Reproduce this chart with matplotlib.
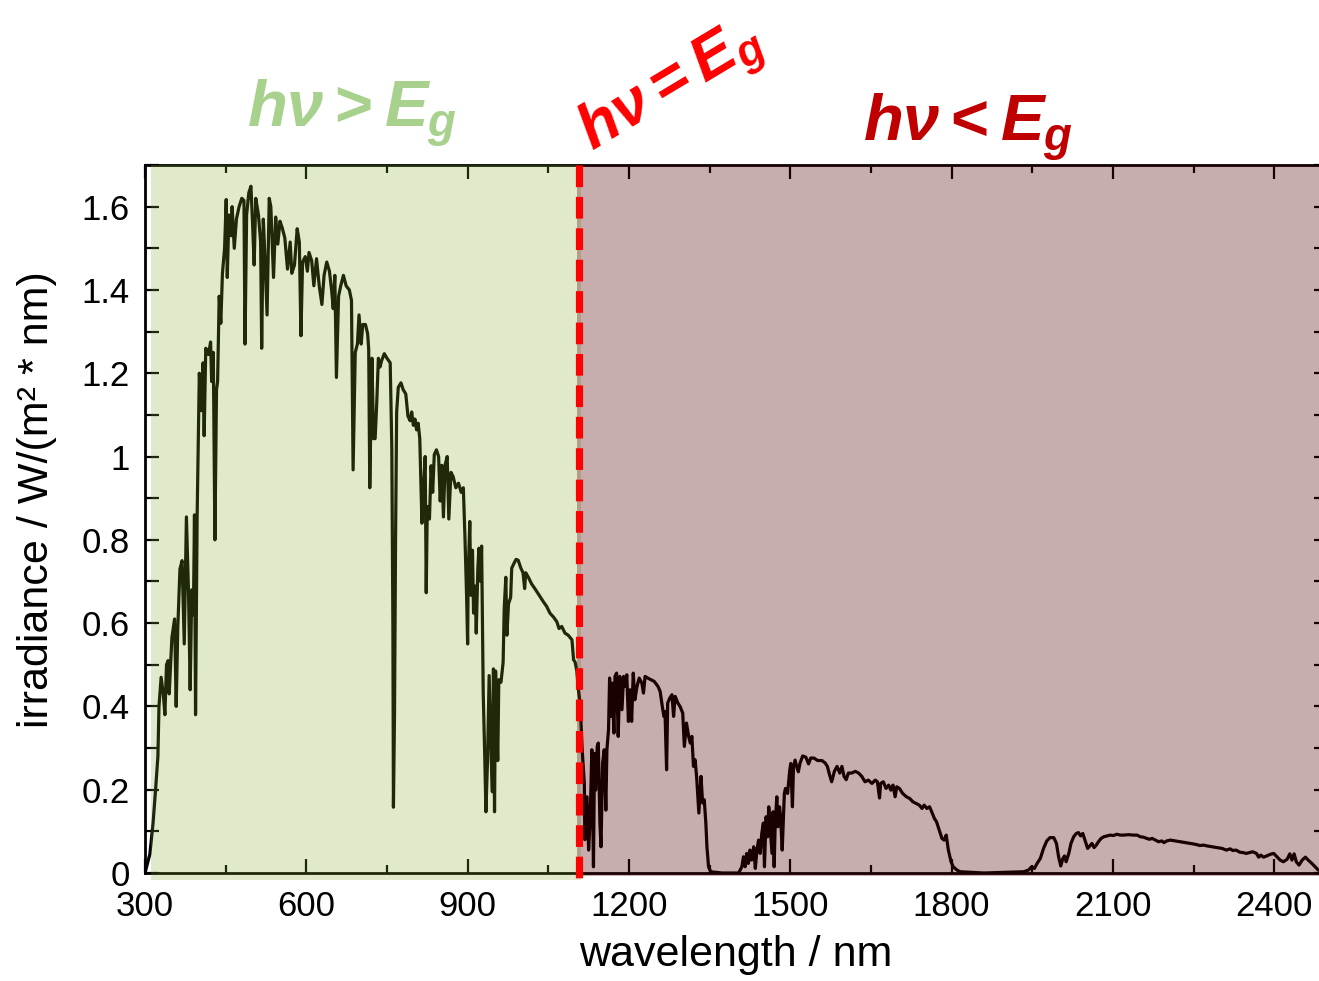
import matplotlib
matplotlib.use("Agg")
import matplotlib.pyplot as plt
from matplotlib.patches import Rectangle
from matplotlib.ticker import MultipleLocator, FuncFormatter
import numpy as np

plt.rcParams['font.family'] = ['Liberation Sans', 'DejaVu Sans']
plt.rcParams['mathtext.fontset'] = 'custom'
plt.rcParams['mathtext.it'] = 'Liberation Sans:bold:italic'
plt.rcParams['mathtext.rm'] = 'Liberation Sans:bold'
plt.rcParams['mathtext.bf'] = 'Liberation Sans:bold'

# ---- data: AM1.5 solar irradiance ----
wl_vis = [300, 309, 315, 320, 324, 326, 330, 334, 337, 340, 343, 345, 350, 355, 358, 361, 365, 369, 373, 377,
          381, 384, 387, 390, 392, 394, 397, 401, 405, 408, 410, 413, 418, 422, 424, 427, 430, 433, 435, 438,
          441, 444, 448, 451, 453, 456, 460, 462, 466, 470, 475, 480, 484, 486, 489, 493, 497, 500, 503, 506,
          511, 515, 517, 520, 523, 527, 531, 534, 539, 543, 547, 551, 555, 560, 565, 570, 573, 578, 583, 587,
          590, 593, 598, 602, 605, 610, 614, 619, 624, 629, 633, 638, 643, 647, 650, 653, 656, 660, 664, 669,
          674, 680, 684, 687, 691, 695, 698, 702, 705, 710, 714, 716, 718, 722, 725, 728, 731, 734, 737, 740,
          745, 750, 756, 759, 761, 762, 764, 766, 768, 771, 776, 780, 785, 789, 793, 796, 799, 802, 805, 808,
          811, 815, 818, 821, 823, 825, 829, 832, 835, 838, 842, 846, 849, 852, 855, 858, 862, 865, 869, 873,
          878, 883, 888, 892, 895, 898, 900, 901, 904, 906, 909, 911, 914, 916, 919, 921, 924, 926, 929, 932,
          934, 937, 940, 944, 946, 948, 950, 952, 956, 958, 962, 966, 968, 971, 973, 976, 980, 982, 986, 990,
          994, 999, 1003, 1006, 1008, 1013, 1019, 1025, 1033, 1041, 1047, 1053, 1060, 1066, 1070, 1075, 1081,
          1087, 1094, 1097, 1100, 1103, 1106, 1109]
irr_vis = [0.0, 0.045, 0.12, 0.206, 0.28, 0.40, 0.47, 0.43, 0.38, 0.50, 0.51, 0.43, 0.565, 0.61, 0.40, 0.59, 0.73, 0.75, 0.55, 0.855,
           0.67, 0.44, 0.68, 0.62, 0.86, 0.38, 0.86, 1.20, 1.11, 1.225, 1.05, 1.26, 1.245, 1.275, 1.18, 1.25, 0.80, 1.16, 1.18, 1.385,
           1.32, 1.44, 1.50, 1.617, 1.43, 1.58, 1.53, 1.60, 1.50, 1.57, 1.60, 1.62, 1.615, 1.27, 1.58, 1.633, 1.649, 1.56, 1.46, 1.62,
           1.58, 1.515, 1.26, 1.57, 1.48, 1.34, 1.62, 1.60, 1.43, 1.575, 1.51, 1.565, 1.55, 1.525, 1.45, 1.515, 1.44, 1.46, 1.547, 1.515,
           1.29, 1.467, 1.48, 1.445, 1.49, 1.47, 1.41, 1.475, 1.41, 1.365, 1.435, 1.467, 1.445, 1.40, 1.355, 1.435, 1.19, 1.385, 1.41, 1.435,
           1.41, 1.40, 1.375, 0.968, 1.25, 1.27, 1.34, 1.27, 1.317, 1.317, 1.295, 1.258, 0.925, 1.236, 1.043, 1.043, 1.13, 1.236, 1.215, 1.23,
           1.247, 1.236, 1.225, 1.02, 0.59, 0.158, 0.378, 0.807, 1.107, 1.166, 1.177, 1.161, 1.15, 1.097, 1.086, 1.107, 1.075, 1.09, 1.064, 1.08,
           1.043, 0.84, 0.925, 1.0, 0.673, 0.88, 0.85, 0.978, 0.914, 1.005, 1.016, 1.0, 0.893, 0.979, 0.855, 0.979, 1.0, 0.85, 0.962, 0.952,
           0.925, 0.936, 0.914, 0.925, 0.807, 0.667, 0.55, 0.71, 0.844, 0.667, 0.775, 0.624, 0.689, 0.576, 0.732, 0.78, 0.70, 0.785, 0.431, 0.27,
           0.147, 0.27, 0.474, 0.27, 0.195, 0.49, 0.147, 0.485, 0.27, 0.464, 0.458, 0.506, 0.635, 0.71, 0.571, 0.646, 0.662, 0.732, 0.743, 0.753,
           0.751, 0.732, 0.721, 0.683, 0.721, 0.71, 0.694, 0.683, 0.667, 0.651, 0.64, 0.624, 0.614, 0.603, 0.587, 0.592, 0.576,
           0.571, 0.56, 0.512, 0.506, 0.485, 0.44, 0.41]

wl_nir1 = [1113, 1117, 1118, 1122, 1125, 1128, 1131, 1134, 1136, 1138, 1141, 1143, 1146, 1148, 1151, 1154, 1157, 1159, 1162, 1164,
           1167, 1169, 1172, 1174, 1177, 1180, 1183, 1187, 1190, 1193, 1196, 1199, 1202, 1205, 1208, 1211, 1215, 1219, 1224, 1227,
           1230, 1235, 1241, 1247, 1254, 1258, 1262, 1265, 1267, 1270, 1272, 1276, 1280, 1283, 1286, 1291, 1295, 1300, 1303, 1307,
           1311, 1314, 1317, 1320, 1323, 1326, 1330, 1334, 1337, 1340, 1343, 1345, 1348, 1352, 1373, 1404]
irr_nir1 = [0.296, 0.215, 0.08, 0.183, 0.055, 0.135, 0.296, 0.015, 0.287, 0.199, 0.304, 0.312, 0.119, 0.063, 0.263, 0.296, 0.151, 0.296, 0.344, 0.468,
            0.376, 0.456, 0.336, 0.472, 0.48, 0.328, 0.472, 0.392, 0.472, 0.448, 0.476, 0.364, 0.44, 0.364, 0.48, 0.416, 0.448, 0.468, 0.456, 0.432,
            0.472, 0.468, 0.464, 0.46, 0.448, 0.436, 0.40, 0.376, 0.388, 0.248, 0.408, 0.42, 0.428, 0.376, 0.424, 0.408, 0.40, 0.384, 0.304, 0.36,
            0.328, 0.312, 0.328, 0.256, 0.272, 0.228, 0.144, 0.232, 0.168, 0.176, 0.12, 0.063, 0.015, 0.003, 0.0, 0.0]

wl_nir2 = [1410, 1413, 1416, 1419, 1422, 1425, 1428, 1432, 1435, 1438, 1441, 1444, 1447, 1450, 1452, 1455, 1458, 1460, 1463, 1466,
           1468, 1470, 1472, 1475, 1477, 1480, 1482, 1485, 1489, 1491, 1495, 1499, 1501, 1504, 1506, 1509, 1512, 1515, 1518, 1523,
           1529, 1534, 1538, 1544, 1551, 1559, 1565, 1569, 1573, 1577, 1582, 1587, 1592, 1596, 1600, 1604, 1608, 1614, 1621, 1627,
           1633, 1639, 1645, 1652, 1658, 1662, 1666, 1668, 1673, 1678, 1683, 1687, 1691, 1695, 1698, 1703, 1709, 1716, 1722, 1728,
           1734, 1740, 1745, 1749, 1754, 1759, 1763, 1768, 1772, 1777, 1782, 1786, 1790, 1794, 1799, 1803, 1810, 1816, 1860]
irr_nir2 = [0.015, 0.039, 0.015, 0.047, 0.023, 0.055, 0.031, 0.063, 0.011, 0.055, 0.079, 0.047, 0.095, 0.12, 0.015, 0.135, 0.087, 0.159, 0.103, 0.047,
            0.147, 0.015, 0.119, 0.183, 0.111, 0.159, 0.135, 0.055, 0.191, 0.203, 0.191, 0.247, 0.263, 0.159, 0.255, 0.271, 0.255, 0.243, 0.263, 0.281,
            0.278, 0.262, 0.276, 0.276, 0.27, 0.27, 0.264, 0.256, 0.236, 0.219, 0.244, 0.256, 0.24, 0.256, 0.232, 0.224, 0.24, 0.24, 0.244, 0.24,
            0.232, 0.219, 0.223, 0.215, 0.223, 0.219, 0.18, 0.215, 0.219, 0.203, 0.211, 0.199, 0.211, 0.183, 0.207, 0.203, 0.191, 0.183, 0.179, 0.171,
            0.167, 0.163, 0.155, 0.163, 0.155, 0.159, 0.147, 0.131, 0.123, 0.103, 0.083, 0.079, 0.091, 0.055, 0.027, 0.015, 0.007, 0.003, 0.0]

wl_nir3 = [1934, 1943, 1949, 1954, 1959, 1965, 1971, 1977, 1983, 1990, 1995, 1999, 2003, 2007, 2010, 2013, 2018, 2022, 2027, 2032,
           2036, 2040, 2044, 2049, 2053, 2057, 2061, 2065, 2069, 2073, 2078, 2083, 2089, 2095, 2101, 2107, 2114, 2120, 2129, 2138,
           2145, 2151, 2157, 2163, 2168, 2173, 2179, 2185, 2191, 2195, 2200, 2207, 2216, 2225, 2234, 2244, 2253, 2262, 2269, 2275,
           2284, 2293, 2303, 2311, 2318, 2323, 2329, 2336, 2342, 2348, 2354, 2360, 2367, 2371, 2375, 2380, 2386, 2393, 2399, 2405,
           2411, 2417, 2424, 2429, 2433, 2437, 2441, 2446, 2452, 2458, 2464, 2470, 2476, 2482, 2500]
irr_nir3 = [0.003, 0.007, 0.015, 0.011, 0.023, 0.035, 0.059, 0.077, 0.085, 0.085, 0.071, 0.039, 0.017, 0.035, 0.041, 0.027, 0.047, 0.071, 0.087, 0.095,
            0.097, 0.089, 0.095, 0.075, 0.059, 0.065, 0.071, 0.061, 0.067, 0.075, 0.083, 0.087, 0.089, 0.091, 0.09, 0.093, 0.091, 0.091, 0.092, 0.091,
            0.091, 0.087, 0.086, 0.083, 0.081, 0.083, 0.079, 0.075, 0.077, 0.073, 0.077, 0.079, 0.077, 0.075, 0.073, 0.071, 0.069, 0.066, 0.067, 0.065,
            0.063, 0.061, 0.059, 0.055, 0.058, 0.054, 0.055, 0.05, 0.049, 0.047, 0.049, 0.051, 0.047, 0.038, 0.043, 0.038, 0.041, 0.045, 0.047, 0.039,
            0.031, 0.027, 0.033, 0.046, 0.031, 0.046, 0.027, 0.019, 0.031, 0.038, 0.03, 0.023, 0.015, 0.007, 0.003]

band_gap_nm = 1107
x_ticks = [300, 600, 900, 1200, 1500, 1800, 2100, 2400]
y_ticks = [0, 0.2, 0.4, 0.6, 0.8, 1.0, 1.2, 1.4, 1.6]

wavelength = np.array(wl_vis + wl_nir1 + wl_nir2 + wl_nir3, dtype=float)
irradiance = np.array(irr_vis + irr_nir1 + irr_nir2 + irr_nir3, dtype=float)

# ---- figure ----
W, H = 1319, 981
fig = plt.figure(figsize=(W / 100, H / 100), dpi=100)
ax = fig.add_axes([145 / W, 1 - 873 / H, 1183 / W, 708 / H])

ax.plot(wavelength, irradiance, color='black', lw=2.3, zorder=2)

ax.set_xlim(300, 2500)
ax.set_ylim(0, 1.7)
ax.set_xticks(x_ticks)
ax.set_yticks(y_ticks)
ax.xaxis.set_minor_locator(MultipleLocator(150))
ax.yaxis.set_minor_locator(MultipleLocator(0.1))
ax.yaxis.set_major_formatter(FuncFormatter(lambda v, p: f'{v:g}'))
ax.tick_params(which='both', direction='in', top=True, right=True, width=1.6,
               labelsize=25, colors='black')
ax.tick_params(axis='x', which='major', length=10, pad=12)
ax.tick_params(axis='x', which='minor', length=5.5)
ax.tick_params(axis='y', which='major', length=10, pad=11)
ax.tick_params(axis='y', which='minor', length=10)
for s in ax.spines.values():
    s.set_linewidth(2.0)

# translucent region overlays (drawn over the curve and axes)
green_rgb = (0.50, 0.67, 0.16)
red_rgb = (0.317, 0.0, 0.0)
ax.add_patch(Rectangle((312, -0.017), band_gap_nm + 3 - 312, 1.717,
                       facecolor=green_rgb, alpha=0.245, edgecolor='none',
                       zorder=5, clip_on=False))
ax.add_patch(Rectangle((band_gap_nm - 3, -0.008), 2520 - band_gap_nm, 1.708,
                       facecolor=red_rgb, alpha=0.322, edgecolor='none',
                       zorder=5, clip_on=False))

ax.plot([band_gap_nm, band_gap_nm], [1.70, -0.02], color='#ff0000', lw=5.2,
        dashes=(3.0, 1.35), solid_capstyle='butt', dash_capstyle='butt',
        zorder=6, clip_on=False)

# axis labels
fig.text(736 / W, 1 - 955 / H, 'wavelength / nm', fontsize=31,
         ha='center', va='center')
fig.text(37 / W, 1 - 500 / H, 'irradiance / W/(m² * nm)', fontsize=31,
         rotation=90, ha='center', va='center')

# region annotations
fig.text(352 / W, 1 - 128 / H, r'$\mathit{h\nu > E_g}$', fontsize=47,
         color='#a9d18e', ha='center', va='baseline')
fig.text(968 / W, 1 - 142 / H, r'$\mathit{h\nu < E_g}$', fontsize=47,
         color='#c00000', ha='center', va='baseline')
fig.text(672 / W, 1 - 88 / H, r'$\mathit{h\nu = E_g}$', fontsize=45,
         color='#ff0000', ha='center', va='center', rotation=31,
         rotation_mode='anchor')

fig.savefig('out.png', dpi=100)
